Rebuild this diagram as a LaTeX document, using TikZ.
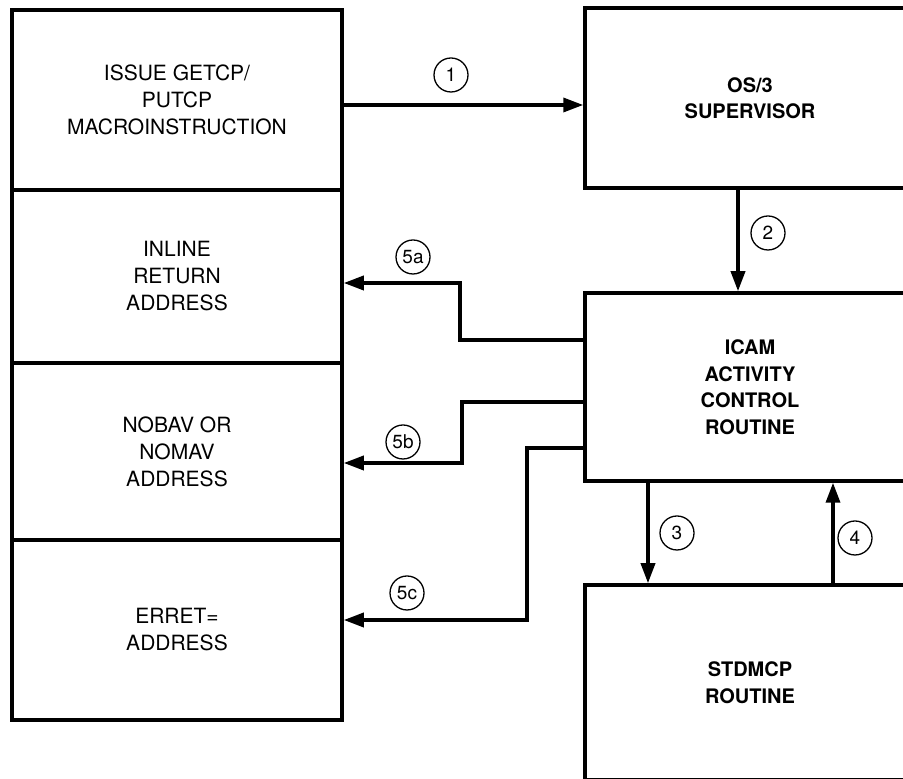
\documentclass[tikz,border=0pt]{standalone}
\usepackage{fontspec}
\setmainfont{TeX Gyre Heros}
\usetikzlibrary{arrows.meta,positioning,calc}

\begin{document}
\begin{tikzpicture}[x=1pt,y=1pt,
    leftbox/.style={draw,line width=3.5pt,minimum width=330pt,inner sep=0pt,
      align=center,font=\fontsize{21}{27}\selectfont},
    rightbox/.style={draw,line width=3.5pt,minimum width=330pt,inner sep=0pt,
      align=center,font=\bfseries\fontsize{20}{26.5}\selectfont},
    flow/.style={line width=3.5pt,-{Triangle[length=20pt,width=14pt]}},
    tag/.style={draw,circle,line width=1.3pt,minimum size=34pt,inner sep=0pt,
      font=\fontsize{19}{19}\selectfont}]
    \useasboundingbox (0,0) rectangle (903,779);
    % left column
    \node[leftbox,minimum height=180pt] (issue) at (177,679) {ISSUE GETCP/\\PUTCP\\MACROINSTRUCTION};
    \node[leftbox,minimum height=173pt] (inline) at (177,502.5) {INLINE\\RETURN\\ADDRESS};
    \node[leftbox,minimum height=177pt] (nobav) at (177,327.5) {NOBAV OR\\NOMAV\\ADDRESS};
    \node[leftbox,minimum height=180pt] (erret) at (177,149) {ERRET=\\ADDRESS};
    % right column
    \node[rightbox,minimum height=180pt] (sup) at (750,681) {OS/3\\SUPERVISOR};
    \node[rightbox,minimum height=188pt] (icam) at (750,392) {ICAM\\ACTIVITY\\CONTROL\\ROUTINE};
    \node[rightbox,minimum height=195pt] (stdmcp) at (750,96.5) {STDMCP\\ROUTINE};
    % flow
    \draw[flow] ([yshift=-5pt]issue.east) -- ([yshift=-5pt]issue.east -| sup.west);
    \draw[flow] ([xshift=-12pt]sup.south) -- ([xshift=-12pt]icam.north);
    \draw[flow] ([xshift=-102pt]icam.south) -- ([xshift=-102pt]stdmcp.north);
    \draw[flow] ([xshift=83pt]stdmcp.north) -- ([xshift=83pt]icam.south);
    \draw[flow] ([yshift=47pt]icam.west) -- (460,439) |- (inline.east |- 0,496);
    \draw[flow] ([yshift=-15pt]icam.west) -- (462,377) |- (nobav.east |- 0,316);
    \draw[flow] ([yshift=-61pt]icam.west) -- (527,331) |- (erret.east |- 0,159);
    % step numbers
    \node[tag] (n1) at (451,704) {1};
    \node[tag] (n2) at (768,546) {2};
    \node[tag] (n3) at (677,246) {3};
    \node[tag] (n4) at (855,241) {4};
    \node[tag] (n5a) at (413,522) {5a};
    \node[tag] (n5b) at (403,337) {5b};
    \node[tag] (n5c) at (407,186) {5c};
\end{tikzpicture}
\end{document}
